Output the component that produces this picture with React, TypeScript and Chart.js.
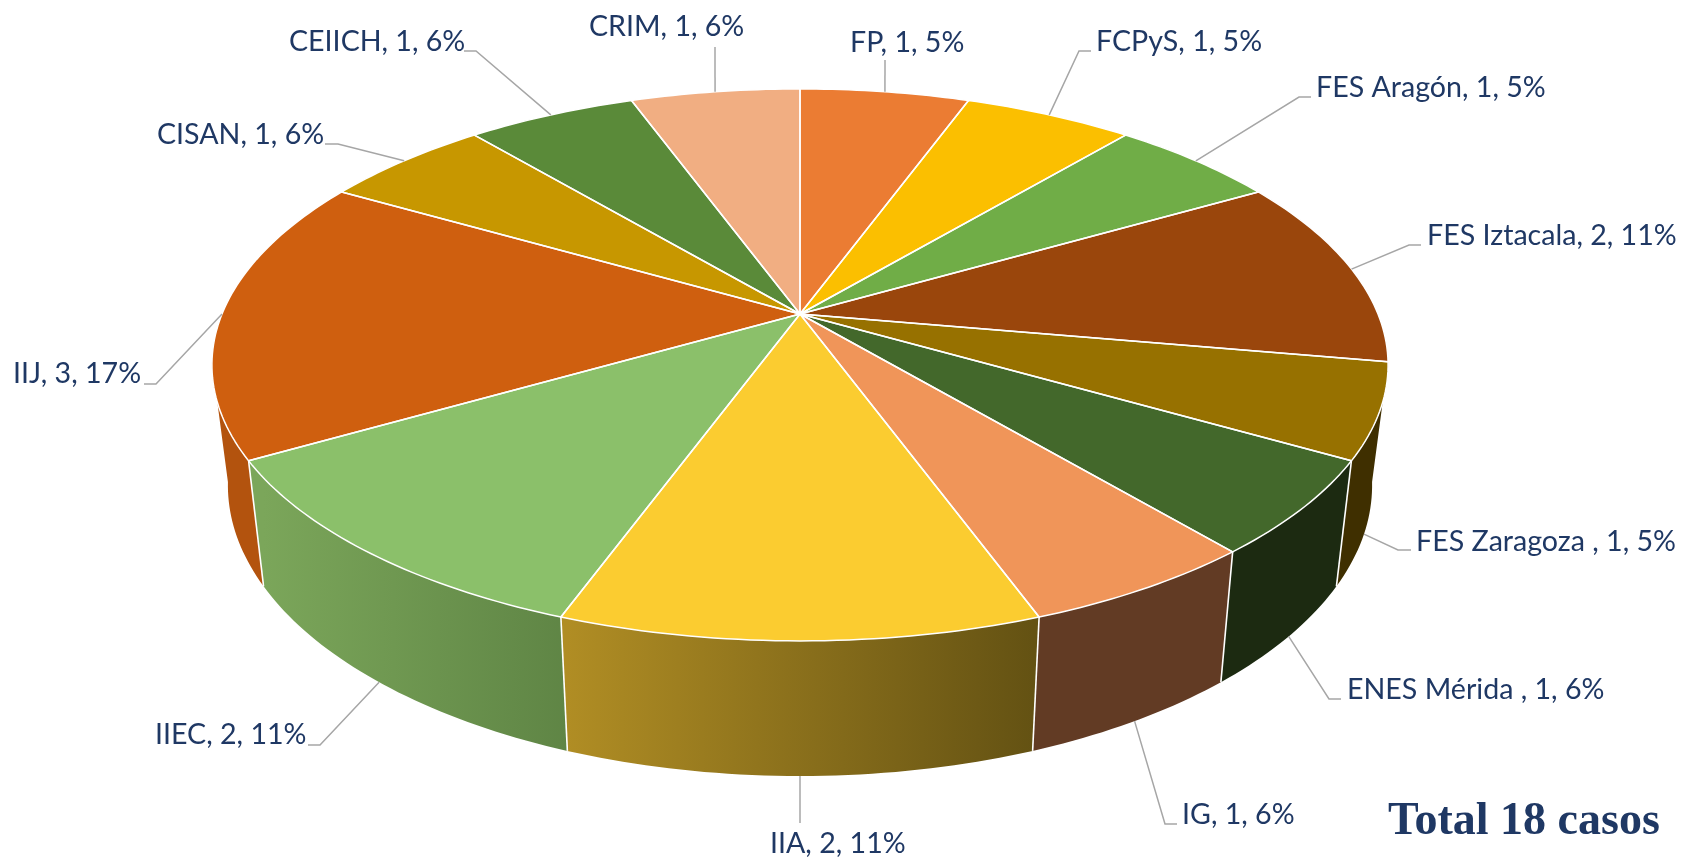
import React, { useEffect, useRef } from "react";
import { Chart, registerables } from "chart.js";

Chart.register(...registerables);

const categories = ["FP", "FCPyS", "FES Aragón", "FES Iztacala", "FES Zaragoza ", "ENES Mérida ", "IG", "IIA", "IIEC", "IIJ", "CISAN", "CEIICH", "CRIM"];
const values = [1, 1, 1, 2, 1, 1, 1, 2, 2, 3, 1, 1, 1];
const percents = ["5%", "5%", "5%", "11%", "5%", "6%", "6%", "11%", "11%", "17%", "6%", "6%", "6%"];
const totalLabel = "Total 18 casos";

const topColors = ["#EB7C33", "#FBBF00", "#70AD47", "#9A460C", "#977100", "#43682B", "#F09559", "#FBCC30", "#8BC06A", "#CF5F0F", "#C79700", "#5A8A39", "#F1AE82"];
const wallColors: (string[] | null)[] = [null, null, null, null, ["#3F2F00"], ["#1C2A11"], ["#623B24"], ["#B08D24", "#645213"], ["#7BA65A", "#5F8545"], ["#B3530E"], null, null, null];
const wallOrder = [9, 4, 8, 5, 7, 6];

// Label layout in page pixels: elbow x, elbow y, line end x, text x, text baseline
const labelLayout = [
  [885, 60, 885, 850, 52],
  [1079, 51, 1091, 1096, 51],
  [1299, 97, 1311, 1316, 97],
  [1409, 245, 1421, 1427, 245],
  [1398, 550, 1411, 1416, 551],
  [1329, 699, 1341, 1347, 699],
  [1165, 824, 1177, 1182, 824],
  [800, 823, 800, 770, 853],
  [320, 745, 308, 155, 744],
  [156, 384, 144, 13, 383],
  [338, 144, 325, 157, 144],
  [476, 51, 464, 289, 51],
  [715, 47, 715, 589, 36],
];

// Perspective of the pie's top face and of its lower rim
const PERSPECTIVE = 0.1844;
const TOP_FACE = { cx: 800, cy: 314, a: 578, b: 266.6 };
const BOTTOM_FACE = { cx: 800, cy: 431.6, a: 562.3, b: 280.9 };
// Part of the circle whose outer wall faces the viewer (chart angles)
const WALL_FROM = (10 * Math.PI) / 180;
const WALL_TO = (170 * Math.PI) / 180;

type Face = typeof TOP_FACE;

function project(face: Face, angle: number) {
  const th = angle + Math.PI / 2;
  const X = Math.sin(th);
  const Y = Math.cos(th);
  const w = 1 + PERSPECTIVE * Y;
  return { x: face.cx + (face.a * X) / w, y: face.cy - (face.b * Y) / w };
}

function trace(ctx: CanvasRenderingContext2D, face: Face, from: number, to: number, move: boolean) {
  const steps = Math.max(2, Math.ceil(Math.abs(to - from) / (Math.PI / 180)));
  for (let i = 0; i <= steps; i++) {
    const p = project(face, from + ((to - from) * i) / steps);
    if (i === 0 && move) ctx.moveTo(p.x, p.y);
    else ctx.lineTo(p.x, p.y);
  }
}

const pie3d = {
  id: "pie3d",
  beforeDatasetDraw(chart: any) {
    const ctx: CanvasRenderingContext2D = chart.ctx;
    const arcs = chart.getDatasetMeta(0).data;
    ctx.save();
    ctx.lineJoin = "round";

    wallOrder.forEach((i) => {
      const props = arcs[i].getProps(["startAngle", "endAngle"], true);
      const startAngle = Math.max(props.startAngle, WALL_FROM);
      const endAngle = Math.min(props.endAngle, WALL_TO);
      const stops = wallColors[i];
      if (!stops) return;
      const s = project(BOTTOM_FACE, startAngle);
      const e = project(BOTTOM_FACE, endAngle);
      let fill: string | CanvasGradient = stops[0];
      if (stops.length > 1) {
        const g = ctx.createLinearGradient(e.x, 0, s.x, 0);
        g.addColorStop(0, stops[0]);
        g.addColorStop(1, stops[1]);
        fill = g;
      }
      ctx.beginPath();
      trace(ctx, TOP_FACE, startAngle, endAngle, true);
      trace(ctx, BOTTOM_FACE, endAngle, startAngle, false);
      ctx.closePath();
      ctx.fillStyle = fill;
      ctx.fill();
    });

    // Seams between neighbouring walls
    ctx.strokeStyle = "#FFFFFF";
    ctx.lineWidth = 1.6;
    [5, 6, 7, 8, 9].forEach((i) => {
      const { startAngle } = arcs[i].getProps(["startAngle"], true);
      const a = project(TOP_FACE, startAngle);
      const b = project(BOTTOM_FACE, startAngle);
      ctx.beginPath();
      ctx.moveTo(a.x, a.y);
      ctx.lineTo(b.x, b.y);
      ctx.stroke();
    });

    // Top face
    const apex = { x: TOP_FACE.cx, y: TOP_FACE.cy };
    arcs.forEach((arc: any) => {
      const { startAngle, endAngle } = arc.getProps(["startAngle", "endAngle"], true);
      ctx.beginPath();
      ctx.moveTo(apex.x, apex.y);
      trace(ctx, TOP_FACE, startAngle, endAngle, false);
      ctx.closePath();
      ctx.fillStyle = arc.options.backgroundColor;
      ctx.fill();
    });
    arcs.forEach((arc: any) => {
      const { startAngle, endAngle } = arc.getProps(["startAngle", "endAngle"], true);
      ctx.beginPath();
      ctx.moveTo(apex.x, apex.y);
      trace(ctx, TOP_FACE, startAngle, endAngle, false);
      ctx.closePath();
      ctx.strokeStyle = "#FFFFFF";
      ctx.lineWidth = 1.5;
      ctx.stroke();
    });
    ctx.restore();
    return false;
  },
  afterDatasetsDraw(chart: any) {
    const ctx: CanvasRenderingContext2D = chart.ctx;
    const arcs = chart.getDatasetMeta(0).data;
    ctx.save();
    arcs.forEach((arc: any, i: number) => {
      const { startAngle, endAngle } = arc.getProps(["startAngle", "endAngle"], true);
      const mid = (startAngle + endAngle) / 2;
      const start = project(wallColors[i] && i !== 9 ? BOTTOM_FACE : TOP_FACE, mid);
      const [ex, ey, lx, tx, ty] = labelLayout[i];
      ctx.beginPath();
      ctx.moveTo(start.x, start.y);
      ctx.lineTo(ex, ey);
      ctx.lineTo(lx, ey);
      ctx.strokeStyle = "#A6A6A6";
      ctx.lineWidth = 1.5;
      ctx.stroke();
      ctx.font = "28.6px Lato";
      ctx.fillStyle = "#1F3864";
      ctx.textAlign = "left";
      ctx.textBaseline = "alphabetic";
      ctx.fillText(`${categories[i]}, ${values[i]}, ${percents[i]}`, tx, ty);
    });
    ctx.font = 'bold 46px "Liberation Serif"';
    ctx.fillStyle = "#1F3864";
    ctx.fillText(totalLabel, 1388, 834);
    ctx.restore();
  },
};

export default function App() {
  const ref = useRef<HTMLCanvasElement | null>(null);
  useEffect(() => {
    const chart = new Chart(ref.current as HTMLCanvasElement, {
      type: "pie",
      data: {
        labels: categories,
        datasets: [{ data: values, backgroundColor: topColors, borderColor: "#FFFFFF", borderWidth: 1.5 }],
      },
      options: {
        animation: false,
        responsive: false,
        events: [],
        layout: { padding: 0 },
        plugins: { legend: { display: false }, tooltip: { enabled: false } },
      },
      plugins: [pie3d],
    } as any);
    return () => chart.destroy();
  }, []);
  return (
    <div style={{ position: "fixed", left: 0, top: 0, width: 1681, height: 858, background: "#FFFFFF" }}>
      <canvas ref={ref} width={1681} height={858} style={{ display: "block" }} />
    </div>
  );
}
